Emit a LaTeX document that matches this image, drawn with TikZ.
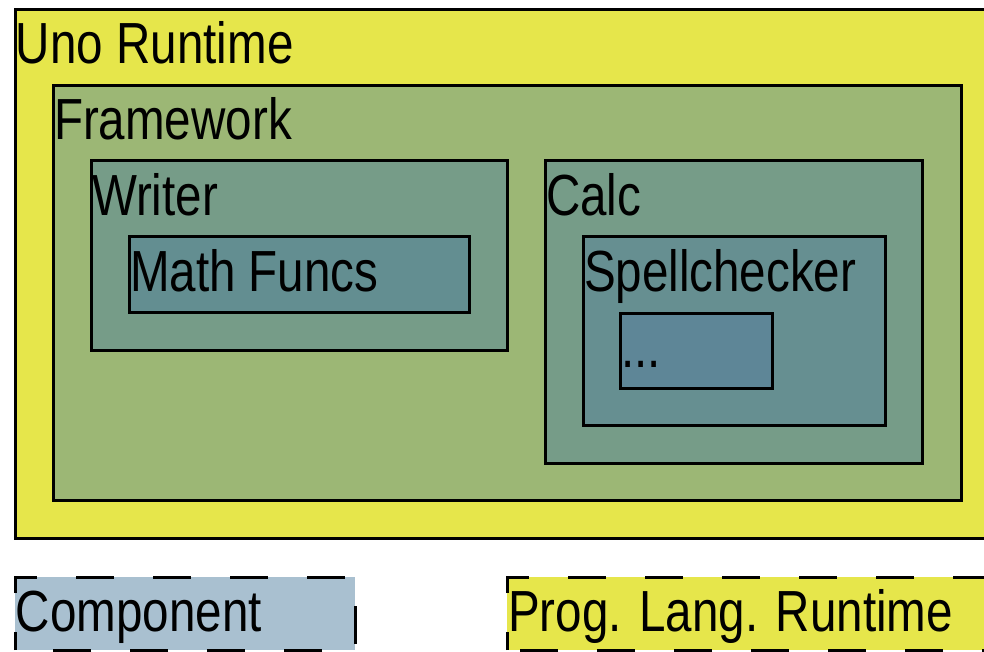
\documentclass[tikz,border=0pt]{standalone}
\usepackage{fontspec}
\setmainfont{Liberation Sans}
\definecolor{cyellow}{HTML}{E6E64B}
\definecolor{cframe}{HTML}{9CB775}
\definecolor{capp}{HTML}{769C88}
\definecolor{cmath}{HTML}{638E91}
\definecolor{cspell}{HTML}{668F91}
\definecolor{cdots}{HTML}{5E8697}
\definecolor{ccomp}{HTML}{A9C0D0}
\newcommand\narrowtxt[1]{\scalebox{0.82}[1]{#1}}
\tikzset{
  box/.style={draw=black, line width=3pt, rectangle, inner sep=0pt, outer sep=0pt, anchor=north west},
  fillbox/.style={rectangle, inner sep=0pt, outer sep=0pt, anchor=north west},
  lbl/.style={anchor=base west, inner sep=0pt, outer sep=0pt, font=\fontsize{58}{60}\selectfont},
  dashb/.style={draw=black, line width=3pt, dash pattern=on 38pt off 39pt, dash phase=20pt},
}
\begin{document}
\begin{tikzpicture}[x=1pt,y=-1pt]
\useasboundingbox (0,0) rectangle (984,652);
\clip (0,0) rectangle (984,652);
\fill[white] (0,0) rectangle (984,652);
% nested boxes
\node[box, fill=cyellow, minimum width=1000pt, minimum height=528pt] (uno) at (15,10) {};
\node[box, fill=cframe, minimum width=908pt, minimum height=414pt] (frame) at (53,86) {};
\node[box, fill=capp, minimum width=416pt, minimum height=189pt] (writer) at (91,161) {};
\node[box, fill=cmath, minimum width=340pt, minimum height=75pt] (math) at (129,237) {};
\node[box, fill=capp, minimum width=377pt, minimum height=302pt] (calc) at (545,161) {};
\node[box, fill=cspell, minimum width=302pt, minimum height=188pt] (spell) at (583,237) {};
\node[box, fill=cdots, minimum width=152pt, minimum height=75pt] (dots) at (620,313) {};
% labels
\node[lbl] (unoL) at ([shift={(1,54)}]uno.north west) {\narrowtxt{Uno Runtime}};
\node[lbl] (frameL) at ([shift={(1,54)}]frame.north west) {\narrowtxt{Framework}};
\node[lbl] (writerL) at ([shift={(1,54)}]writer.north west) {\narrowtxt{Writer}};
\node[lbl] (mathL) at ([shift={(1,54)}]math.north west) {\narrowtxt{Math Funcs}};
\node[lbl] (calcL) at ([shift={(1,54)}]calc.north west) {\narrowtxt{Calc}};
\node[lbl] (spellL) at ([shift={(1,54)}]spell.north west) {\narrowtxt{Spellchecker}};
\node[lbl] (dotsL) at ([shift={(1,54)}]dots.north west) {\narrowtxt{...}};
% legend
\node[fillbox, fill=ccomp, minimum width=340pt, minimum height=73pt] (comp) at (15,577) {};
\draw[dashb] (comp.south west) rectangle (comp.north east);
\node[lbl] (compL) at ([shift={(1,54)}]comp.north west) {\narrowtxt{Component}};
\node[fillbox, fill=cyellow, minimum width=520pt, minimum height=73pt] (prog) at (507,577) {};
\draw[dashb] (prog.south west) rectangle (prog.north east);
\node[lbl] (progL) at ([shift={(1,54)}]prog.north west) {\narrowtxt{Prog. Lang. Runtime}};
\end{tikzpicture}
\end{document}
